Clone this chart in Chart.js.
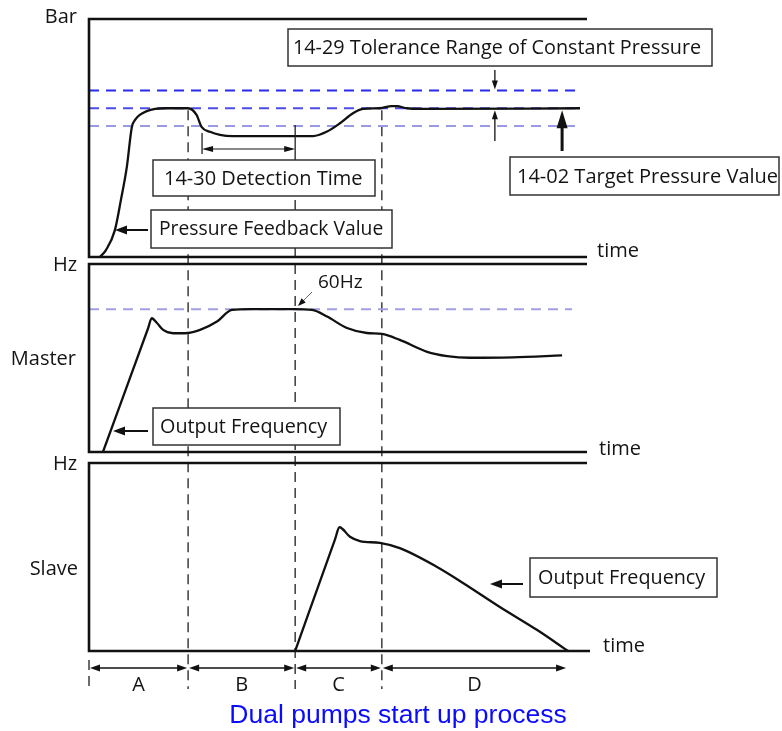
<!DOCTYPE html>
<html><head><meta charset="utf-8">
<script src="https://cdn.jsdelivr.net/npm/chart.js@4.4.1/dist/chart.umd.min.js"></script>
<style>
html,body{margin:0;padding:0;background:#fff;}
body{width:782px;height:731px;position:relative;overflow:hidden;}
canvas{position:absolute;left:0;top:0;}
</style></head>
<body>
<canvas id="c1" width="782" height="731"></canvas>
<canvas id="c2" width="782" height="731"></canvas>
<canvas id="c3" width="782" height="731"></canvas>
<script>
// ---------------- data (time in arbitrary units 0..100) ----------------
const phaseLabels = ['A', 'B', 'C', 'D'];
const phaseBounds = [0, 19.9, 41.4, 58.8, 96.0];
const detectionWindow = [22.7, 41.4];

// Panel 1: pressure (arbitrary bar units 0..10)
const targetPressure = 6.25;
const toleranceBand = [5.5, 7.0];
const refLineEnd = 98.6;
const pressureTime  = [2.2, 3.4, 5.2, 6.4, 7.6, 8.6, 9.4, 10.2, 11.6, 13.3, 15.3, 19.5, 19.9, 21.6, 22.6, 24.3, 26.3, 28.9, 45.0, 47.7, 50.4, 53.0, 55.0, 58.4, 60.8, 61.8, 63.8, 66.5, 98.6];
const pressureValue = [0, 0.29, 1.13, 2.39, 3.79, 5.45, 5.8, 5.97, 6.13, 6.22, 6.25, 6.25, 6.25, 5.97, 5.47, 5.26, 5.13, 5.08, 5.08, 5.26, 5.62, 6.04, 6.22, 6.25, 6.34, 6.34, 6.25, 6.22, 6.25];

// Panel 2: master output frequency (Hz)
const ratedFreq = 60;
const freqLineEnd = 97.0;
const masterTime = [2.8, 11.85, 12.6, 13.65, 14.9, 16.9, 19.3, 22.3, 25.7, 28.7, 32.3, 41.0, 44.8, 47.8, 51.8, 55.8, 58.8, 62.4, 67.9, 71.9, 76.5, 85.1, 95.0];
const masterFreq = [0, 51.9, 56.2, 54.2, 51.3, 49.9, 49.9, 51.3, 54.8, 59.7, 60, 60, 59.7, 56.9, 52.1, 50.0, 49.6, 47.1, 42.1, 40.3, 39.6, 39.8, 40.6];

// Panel 3: slave output frequency (Hz)
const slaveTime = [41.4, 49.4, 50.3, 52.4, 54.4, 58.4, 62.4, 69.8, 75.1, 82.5, 90.0, 96.2];
const slaveFreq = [0, 46.9, 52.0, 48.0, 46.2, 45.4, 43.2, 35.4, 28.6, 18.5, 8.8, 0];

const freqAxisMax = 79;
const pressureAxisMax = 10;

// ---------------- helpers ----------------
const FONT = '"Open Sans", "Noto Sans", "DejaVu Sans", sans-serif';
const TXT = '#141414';
const pts = (xs, ys) => xs.map((x, i) => ({x, y: ys[i]}));

function seg(ctx, x1, y1, x2, y2, lw, color, dash) {
  ctx.save(); ctx.beginPath(); ctx.lineWidth = lw; ctx.strokeStyle = color;
  ctx.setLineDash(dash || []); ctx.moveTo(x1, y1); ctx.lineTo(x2, y2); ctx.stroke(); ctx.restore();
}
function head(ctx, x1, y1, x2, y2, len, w, color) {
  const a = Math.atan2(y2 - y1, x2 - x1);
  ctx.save(); ctx.translate(x2, y2); ctx.rotate(a); ctx.beginPath();
  ctx.moveTo(0, 0); ctx.lineTo(-len, w / 2); ctx.lineTo(-len, -w / 2); ctx.closePath();
  ctx.fillStyle = color; ctx.fill(); ctx.restore();
}
function arrow(ctx, x1, y1, x2, y2, lw, len, w, color) {
  color = color || '#111';
  const a = Math.atan2(y2 - y1, x2 - x1);
  seg(ctx, x1, y1, x2 - Math.cos(a) * len * 0.6, y2 - Math.sin(a) * len * 0.6, lw, color);
  head(ctx, x1, y1, x2, y2, len, w, color);
}
function dblArrow(ctx, x1, y, x2, lw, len, w) {
  seg(ctx, x1 + len * 0.5, y, x2 - len * 0.5, y, lw, '#111');
  head(ctx, x2, y, x1, y, len, w, '#111');
  head(ctx, x1, y, x2, y, len, w, '#111');
}
function box(ctx, b) {
  ctx.save();
  ctx.fillStyle = '#fff'; ctx.fillRect(b.x, b.y, b.w, b.h);
  ctx.lineWidth = 1.5; ctx.strokeStyle = '#333'; ctx.strokeRect(b.x, b.y, b.w, b.h);
  ctx.fillStyle = TXT; ctx.font = (b.size || 20) + 'px ' + FONT;
  ctx.textBaseline = 'middle'; ctx.textAlign = 'left';
  ctx.fillText(b.text, b.x + b.pad, b.y + b.h / 2 + 1);
  ctx.restore();
}
function label(ctx, text, x, y, align, size, color, family) {
  ctx.save(); ctx.fillStyle = color || TXT; ctx.font = size + 'px ' + (family || FONT);
  ctx.textAlign = align; ctx.textBaseline = 'middle'; ctx.fillText(text, x, y); ctx.restore();
}
function frame(chart, extra) {
  const {left, top, right, bottom} = chart.chartArea; const ctx = chart.ctx;
  ctx.save(); ctx.strokeStyle = '#111'; ctx.lineWidth = 2.6; ctx.beginPath();
  ctx.moveTo(right, top); ctx.lineTo(left, top); ctx.lineTo(left, bottom); ctx.lineTo(right + (extra || 0), bottom);
  ctx.stroke(); ctx.restore();
}

function makeChart(id, top, bottom, yMax, datasets, plugin) {
  return new Chart(document.getElementById(id), {
    type: 'line',
    data: {datasets},
    options: {
      responsive: false, animation: false,
      layout: {padding: {left: 89, right: 195, top: top, bottom: 731 - bottom}},
      plugins: {legend: {display: false}, tooltip: {enabled: false}, title: {display: false}},
      scales: {
        x: {type: 'linear', min: 0, max: 100, display: false},
        y: {type: 'linear', min: 0, max: yMax, display: false}
      },
      elements: {point: {radius: 0}}
    },
    plugins: [plugin]
  });
}

const curve = (data) => ({data, borderColor: '#111', borderWidth: 2.3, cubicInterpolationMode: 'monotone', fill: false, order: 0});
const refLine = (y, end, color) => ({data: [{x: 0, y}, {x: end, y}], borderColor: color, borderWidth: 2, borderDash: [10, 7], fill: false, order: 1});

// ---------------- panel 1 ----------------
makeChart('c1', 19, 257, pressureAxisMax, [
  curve(pts(pressureTime, pressureValue)),
  refLine(toleranceBand[1], refLineEnd, '#2a2aea'),
  refLine(targetPressure, refLineEnd, '#4c4ce8'),
  refLine(toleranceBand[0], refLineEnd, '#9a9ae2')
], {
  id: 'p1',
  beforeDatasetsDraw(chart) {
    const ctx = chart.ctx, x = chart.scales.x, y = chart.scales.y;
    const yT = y.getPixelForValue(targetPressure);
    // phase boundaries through all panels
    [phaseBounds[1], phaseBounds[3]].forEach(t => seg(ctx, x.getPixelForValue(t), yT + 2, x.getPixelForValue(t), 689, 1.5, '#3c3c3c', [10, 6]));
    seg(ctx, x.getPixelForValue(phaseBounds[2]), 152, x.getPixelForValue(phaseBounds[2]), 689, 1.5, '#3c3c3c', [10, 6]);
    seg(ctx, x.getPixelForValue(phaseBounds[0]), 660, x.getPixelForValue(phaseBounds[0]), 689, 1.5, '#3c3c3c', [10, 6]);
  },
  afterDraw(chart) {
    const ctx = chart.ctx, x = chart.scales.x, y = chart.scales.y;
    frame(chart, 0);
    label(ctx, 'Bar', 77, 17, 'right', 20);
    label(ctx, 'time', 597, 251, 'left', 20);
    // detection time
    const d0 = x.getPixelForValue(detectionWindow[0]), d1 = x.getPixelForValue(detectionWindow[1]);
    seg(ctx, d0, 133, d0, 154, 1.3, '#222');
    seg(ctx, d1, 125, d1, 152, 1.3, '#222');
    dblArrow(ctx, d0, 149, d1, 1.2, 11, 6);
    // tolerance arrows
    const xa = x.getPixelForValue(81.5);
    arrow(ctx, xa, 70, xa, y.getPixelForValue(toleranceBand[1]) - 1, 1.3, 9, 6);
    arrow(ctx, xa, 141, xa, y.getPixelForValue(targetPressure) + 2, 1.3, 9, 6);
    // target arrow
    const xt = x.getPixelForValue(95.0);
    arrow(ctx, xt, 151, xt, y.getPixelForValue(targetPressure) + 2, 3, 18, 11);
    // pressure feedback arrow
    arrow(ctx, 148, 230, 115, 230, 2, 12, 9);
    box(ctx, {text: '14-29 Tolerance Range of Constant Pressure', x: 288, y: 29, w: 424, h: 37, pad: 5, size: 19.8});
    box(ctx, {text: '14-30 Detection Time', x: 153, y: 160, w: 222, h: 36, pad: 11, size: 20});
    box(ctx, {text: 'Pressure Feedback Value', x: 151, y: 210, w: 241, h: 38, pad: 8, size: 19.3});
    box(ctx, {text: '14-02 Target Pressure Value', x: 510, y: 157, w: 269, h: 38, pad: 7, size: 20});
  }
});

// ---------------- panel 2 ----------------
makeChart('c2', 264, 452, freqAxisMax, [
  curve(pts(masterTime, masterFreq)),
  refLine(ratedFreq, freqLineEnd, '#a0a0e2')
], {
  id: 'p2',
  afterDraw(chart) {
    const ctx = chart.ctx;
    frame(chart, 0);
    label(ctx, 'Hz', 77, 265, 'right', 20);
    label(ctx, 'Master', 76, 359, 'right', 20);
    label(ctx, 'time', 599, 449, 'left', 20);
    label(ctx, '60Hz', 318, 283, 'left', 19);
    seg(ctx, 312, 292, 302, 302, 1, '#666');
    head(ctx, 312, 292, 298, 306, 8, 6, '#111');
    arrow(ctx, 148, 431, 113, 431, 2, 12, 9);
    box(ctx, {text: 'Output Frequency', x: 153, y: 408, w: 187, h: 37, pad: 7, size: 19.8});
  }
});

// ---------------- panel 3 ----------------
makeChart('c3', 463, 651, freqAxisMax, [
  curve(pts(slaveTime, slaveFreq))
], {
  id: 'p3',
  afterDraw(chart) {
    const ctx = chart.ctx, x = chart.scales.x;
    frame(chart, 3);
    label(ctx, 'Hz', 77, 464, 'right', 20);
    label(ctx, 'Slave', 78, 569, 'right', 20);
    label(ctx, 'time', 603, 646, 'left', 20);
    arrow(ctx, 523, 584, 490, 584, 2, 12, 9);
    box(ctx, {text: 'Output Frequency', x: 530, y: 558, w: 187, h: 39, pad: 8, size: 19.8});
    for (let i = 0; i < phaseLabels.length; i++) {
      const a = x.getPixelForValue(phaseBounds[i]), b = x.getPixelForValue(phaseBounds[i + 1]);
      dblArrow(ctx, a + 1, 668, b - 1, 1.5, 10, 7);
      label(ctx, phaseLabels[i], (a + b) / 2, 685, 'center', 20);
    }
    label(ctx, 'Dual pumps start up process', 398, 716, 'center', 26.5, '#0a0aff', '"Liberation Sans", Arial, sans-serif');
  }
});
</script>
</body></html>
